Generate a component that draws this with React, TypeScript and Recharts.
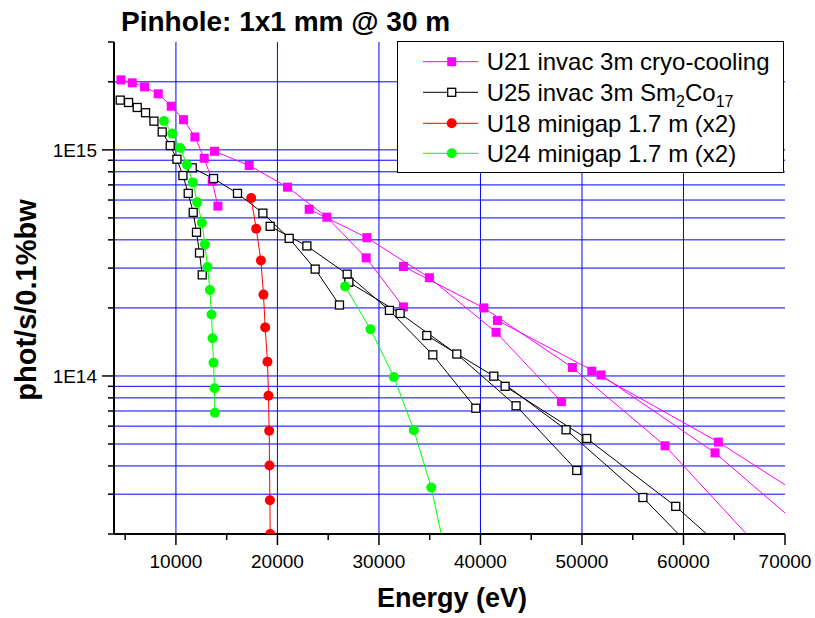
import React from "react";
import { LineChart, Line, XAxis, YAxis, CartesianGrid, Legend } from "recharts";

// energy (eV) / flux (phot/s/0.1%bw) pairs, one array per harmonic
const U21_H1 = [[4584, 2.04e15], [5697, 1.98e15], [6908, 1.9e15], [8257, 1.77e15], [9537, 1.56e15], [10748, 1.36e15], [11871, 1.14e15], [12787, 9.18e14], [13575, 7.27e14], [14136, 5.64e14]];
const U21_H3 = [[13801, 9.86e14], [17218, 8.53e14], [20990, 6.84e14], [24869, 5.04e14], [28739, 3.33e14], [32413, 2.02e14]];
const U21_H5 = [[23126, 5.46e14], [28808, 4.09e14], [34973, 2.72e14], [41541, 1.56e14], [47976, 7.7e13]];
const U21_H7 = [[32413, 3.05e14], [40330, 2.0e14], [49054, 1.09e14], [58183, 4.91e13], [66759, 1.88e13]];
const U21_H9 = [[41669, 1.76e14], [51881, 1.01e14], [63106, 4.57e13], [74313, 1.69e13]];
const U21_H11 = [[50966, 1.05e14], [63435, 5.1e13], [75988, 2.22e13]];

const U25_H1 = [[4516, 1.66e15], [5333, 1.62e15], [6190, 1.54e15], [7006, 1.46e15], [7834, 1.34e15], [8651, 1.2e15], [9439, 1.045e15], [10099, 9.09e14], [10689, 7.7e14], [11211, 6.42e14], [11704, 5.29e14], [12028, 4.32e14], [12324, 3.5e14], [12590, 2.8e14]];
const U25_H3 = [[11605, 8.33e14], [13707, 7.47e14], [16066, 6.42e14], [18567, 5.25e14], [21157, 4.06e14], [23717, 2.97e14], [26110, 2.06e14]];
const U25_H5 = [[19286, 4.59e14], [22900, 3.76e14], [26868, 2.82e14], [31033, 1.95e14], [35307, 1.24e14], [39542, 7.2e13]];
const U25_H7 = [[27035, 2.6e14], [32087, 1.89e14], [37670, 1.25e14], [43510, 7.38e13], [49488, 3.82e13]];
const U25_H9 = [[34716, 1.51e14], [41314, 9.98e13], [48434, 5.78e13], [56000, 2.9e13], [63054, 1.37e13]];
const U25_H11 = [[42427, 9.0e13], [50473, 5.29e13], [59237, 2.65e13], [68090, 1.17e13]];

const U18_H1 = [[17415, 6.12e14], [17907, 4.48e14], [18370, 3.24e14], [18626, 2.29e14], [18793, 1.64e14], [19020, 1.156e14], [19119, 8.17e13], [19188, 5.72e13], [19218, 4.02e13], [19257, 2.82e13], [19287, 2.0e13]];

const U24_H1 = [[8818, 1.343e15], [9636, 1.18e15], [10423, 1.02e15], [11083, 8.59e14], [11674, 7.18e14], [12097, 5.86e14], [12560, 4.76e14], [12856, 3.82e14], [13112, 3.03e14], [13348, 2.4e14], [13505, 1.87e14], [13604, 1.467e14], [13702, 1.145e14], [13801, 8.83e13], [13840, 6.87e13]];
const U24_H3 = [[26670, 2.49e14], [29164, 1.61e14], [31467, 9.9e13], [33437, 5.76e13], [35156, 3.21e13], [36400, 1.76e13]];

const X_TICKS = [5000, 10000, 15000, 20000, 25000, 30000, 35000, 40000, 45000, 50000, 55000, 60000, 65000, 70000];
const X_GRID = [10000, 20000, 30000, 40000, 50000, 60000];
const Y_TICKS = [2e13, 3e13, 4e13, 5e13, 6e13, 7e13, 8e13, 9e13, 1e14, 2e14, 3e14, 4e14, 5e14, 6e14, 7e14, 8e14, 9e14, 1e15, 2e15, 3e15];
const Y_GRID = Y_TICKS.filter((v) => v < 3e15);
const Y_LABELED = [1e14, 1e15];

const FONT = "'Liberation Sans', Arial, sans-serif";

const pts = (arr: number[][]) => arr.map(([x, y]) => ({ x, y }));

const SERIES = [
  { name: "U21 invac 3m cryo-cooling", color: "#ff00ff", marker: "fsquare", harmonics: [U21_H1, U21_H3, U21_H5, U21_H7, U21_H9, U21_H11] },
  { name: "U25 invac 3m Sm2Co17", color: "#000000", marker: "osquare", harmonics: [U25_H1, U25_H3, U25_H5, U25_H7, U25_H9, U25_H11] },
  { name: "U18 minigap 1.7 m (x2)", color: "#ff0000", marker: "circle", harmonics: [U18_H1] },
  { name: "U24 minigap 1.7 m (x2)", color: "#00ff00", marker: "circle", harmonics: [U24_H1, U24_H3] },
];

function Marker({ kind, color, cx, cy }: any) {
  if (kind === "fsquare") return <rect x={cx - 4.5} y={cy - 4.5} width={9} height={9} fill={color} />;
  if (kind === "osquare")
    return <rect x={cx - 4} y={cy - 4} width={8} height={8} fill="#fff" stroke="#000" strokeWidth={1.3} />;
  return <circle cx={cx} cy={cy} r={5} fill={color} />;
}

const makeDot = (kind: string, color: string) => (p: any) => {
  if (p.cx == null || p.cy == null) return <g key={p.index} />;
  return (
    <g key={p.index}>
      <Marker kind={kind} color={color} cx={p.cx} cy={p.cy} />
    </g>
  );
};

function XTick({ x, y, payload }: any) {
  const major = payload.value % 10000 === 0;
  return (
    <g>
      <line x1={x} x2={x} y1={y} y2={y + (major ? 11 : 6)} stroke="#000" strokeWidth={1.5} />
      {major && (
        <text x={x} y={y + 34} textAnchor="middle" fontSize={19} fontFamily={FONT} fill="#000">
          {payload.value}
        </text>
      )}
    </g>
  );
}

function YTick({ x, y, payload }: any) {
  const major = Y_LABELED.includes(payload.value);
  const label = "1E" + Math.round(Math.log10(payload.value));
  return (
    <g>
      <line x1={x} x2={x - (major ? 12 : 6)} y1={y} y2={y} stroke="#000" strokeWidth={1.5} />
      {major && (
        <text x={x - 17} y={y + 7} textAnchor="end" fontSize={19} fontFamily={FONT} fill="#000">
          {label}
        </text>
      )}
    </g>
  );
}

function LegendBox() {
  const rows = [20.7, 51.3, 82.3, 112.3];
  return (
    <div style={{ width: 387, height: 132, border: "1px solid #000", background: "#fff", boxSizing: "border-box" }}>
      <svg width={385} height={130} style={{ display: "block" }}>
        {SERIES.map((s, i) => (
          <g key={s.name} transform={`translate(-1,${rows[i] - 1})`}>
            <line x1={26} x2={81} y1={0} y2={0} stroke={s.color} strokeWidth={1} />
            <Marker kind={s.marker} color={s.color} cx={54.7} cy={0} />
            <text x={89.7} y={8.5} fontSize={24} fontFamily={FONT} fill="#000">
              {i === 1 ? (
                <>
                  U25 invac 3m Sm
                  <tspan fontSize={16} dy={6}>2</tspan>
                  <tspan dy={-6}>Co</tspan>
                  <tspan fontSize={16} dy={6}>17</tspan>
                </>
              ) : (
                s.name
              )}
            </text>
          </g>
        ))}
      </svg>
    </div>
  );
}

export default function App() {
  return (
    <div style={{ position: "absolute", left: 0, top: 0, width: 815, height: 618, background: "#fff" }}>
      <LineChart width={815} height={618} margin={{ top: 42, right: 30, left: 14, bottom: 24 }}>
        <CartesianGrid stroke="#0000ff" strokeWidth={1} horizontalValues={Y_GRID} verticalValues={X_GRID} />
        <XAxis
          type="number"
          dataKey="x"
          domain={[3900, 70000]}
          allowDataOverflow
          ticks={X_TICKS}
          interval={0}
          height={60}
          tickSize={0}
          tickMargin={0}
          tickLine={false}
          axisLine={{ stroke: "#000", strokeWidth: 2 }}
          tick={<XTick />}
        />
        <YAxis
          type="number"
          dataKey="y"
          scale="log"
          domain={[2e13, 3e15]}
          allowDataOverflow
          ticks={Y_TICKS}
          interval={0}
          width={100}
          tickSize={0}
          tickMargin={0}
          tickLine={false}
          axisLine={{ stroke: "#000", strokeWidth: 2 }}
          tick={<YTick />}
        />
        {SERIES.map((s) =>
          s.harmonics.map((h, j) => (
            <Line
              key={s.name + j}
              name={s.name}
              data={pts(h)}
              dataKey="y"
              type="linear"
              stroke={s.color}
              strokeWidth={1}
              dot={makeDot(s.marker, s.color)}
              activeDot={false}
              legendType="none"
              isAnimationActive={false}
            />
          ))
        )}
        <Legend
          layout="vertical"
          align="center"
          verticalAlign="middle"
          wrapperStyle={{ left: 397, top: 41, width: 387, height: 132 }}
          content={() => <LegendBox />}
        />
        <text x={121} y={31} fontSize={28} fontWeight="bold" fontFamily={FONT} fill="#000">
          Pinhole: 1x1 mm @ 30 m
        </text>
        <text x={452} y={607} textAnchor="middle" fontSize={27} fontWeight="bold" fontFamily={FONT} fill="#000">
          Energy (eV)
        </text>
        <text
          x={36}
          y={300}
          transform="rotate(-90 36 300)"
          textAnchor="middle"
          fontSize={29}
          fontWeight="bold"
          fontFamily={FONT}
          fill="#000"
        >
          phot/s/0.1%bw
        </text>
      </LineChart>
    </div>
  );
}
